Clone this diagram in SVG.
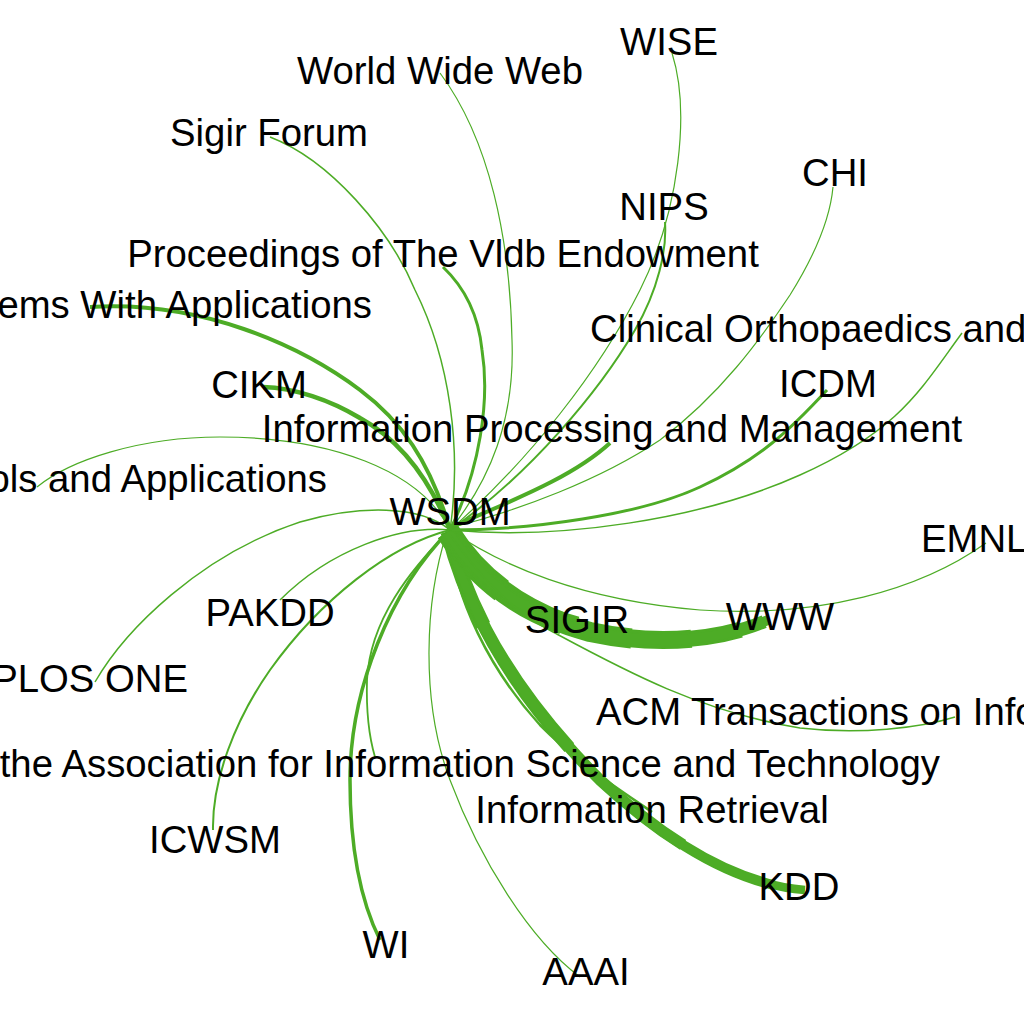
<svg xmlns="http://www.w3.org/2000/svg" xmlns:xlink="http://www.w3.org/1999/xlink" width="1024" height="1024" viewBox="0 0 1024 1024">
<style>
.e{fill:none;stroke:#4dac26;stroke-linecap:butt}
.t{font-family:"Liberation Sans",Arial,sans-serif;font-size:38.3px;fill:#000}
.m{text-anchor:middle}
.s{text-anchor:start}
.n{text-anchor:end}
</style>
<defs>
<path id="p-www" d="M448,532 C478,580 525,615 590,632 C650,645 715,643 768,620"/>
<path id="p-kdd" d="M448,532 C470,620 520,700 600,780 C670,845 740,885 805,890"/>
<path id="p-sigir" d="M448,532 C475,575 520,608 578,622"/>
</defs>
<rect width="1024" height="1024" fill="#fff"/>
<g id="edges">
<path class="e" stroke-width="4" d="M450,530 C430,460 400,420 360,390 C300,345 200,300 90,307"/>
<path class="e" stroke-width="4.5" d="M450,530 C430,480 400,440 360,418 C330,400 295,388 263,387"/>
<path class="e" stroke-width="1.2" d="M450,530 C420,470 330,437 220,437 C140,437 70,460 37,487"/>
<path class="e" stroke-width="1.5" d="M450,530 C420,505 360,505 300,522 C200,555 125,630 95,682"/>
<path class="e" stroke-width="1.5" d="M450,530 C400,525 330,550 280,600"/>
<path class="e" stroke-width="2" d="M450,530 C390,545 320,600 270,670 C235,720 212,780 213,830"/>
<path class="e" stroke-width="3.5" d="M450,530 C390,590 350,690 350,780 C350,860 365,910 380,940"/>
<path class="e" stroke-width="1.8" d="M450,530 C410,570 370,620 367,680 C366,715 370,740 375,757"/>
<path class="e" stroke-width="1.2" d="M447,532 C425,600 420,700 450,780 C480,860 530,940 580,977"/>
<path class="e" stroke-width="2.5" d="M448,532 C455,600 490,670 540,725 C580,765 620,790 652,812"/>
<g id="edge-kdd">
<use xlink:href="#p-kdd" href="#p-kdd" class="e" stroke-width="15" stroke-dasharray="100 2000"/>
<use xlink:href="#p-kdd" href="#p-kdd" class="e" stroke-width="13" stroke-dasharray="250 2000"/>
<use xlink:href="#p-kdd" href="#p-kdd" class="e" stroke-width="11.5" stroke-dasharray="400 2000"/>
<use xlink:href="#p-kdd" href="#p-kdd" class="e" stroke-width="10" stroke-dasharray="500 2000"/>
<use xlink:href="#p-kdd" href="#p-kdd" class="e" stroke-width="8.5"/>
</g>
<g id="edge-sigir">
<use xlink:href="#p-sigir" href="#p-sigir" class="e" stroke-width="17" stroke-dasharray="60 2000"/>
<use xlink:href="#p-sigir" href="#p-sigir" class="e" stroke-width="14" stroke-dasharray="120 2000"/>
<use xlink:href="#p-sigir" href="#p-sigir" class="e" stroke-width="11"/>
</g>
<g id="edge-www">
<use xlink:href="#p-www" href="#p-www" class="e" stroke-width="24" stroke-dasharray="80 2000"/>
<use xlink:href="#p-www" href="#p-www" class="e" stroke-width="22" stroke-dasharray="150 2000"/>
<use xlink:href="#p-www" href="#p-www" class="e" stroke-width="20" stroke-dasharray="220 2000"/>
<use xlink:href="#p-www" href="#p-www" class="e" stroke-width="18" stroke-dasharray="280 2000"/>
<use xlink:href="#p-www" href="#p-www" class="e" stroke-width="16" stroke-dasharray="330 2000"/>
<use xlink:href="#p-www" href="#p-www" class="e" stroke-width="13" stroke-dasharray="355 2000"/>
<use xlink:href="#p-www" href="#p-www" class="e" stroke-width="10"/>
</g>
<path class="e" stroke-width="1.5" d="M450,535 C490,590 520,615 553,632 C620,668 700,712 800,728 C860,735 920,728 955,717"/>
<path class="e" stroke-width="1.2" d="M450,530 C500,565 580,600 700,610 C820,618 920,590 986,543"/>
<path class="e" stroke-width="1.5" d="M450,530 C560,540 700,520 800,475 S920,390 962,333"/>
<path class="e" stroke-width="3" d="M450,530 C530,530 640,515 700,487 S790,430 827,390"/>
<path class="e" stroke-width="4" d="M450,528 C500,505 570,480 610,443"/>
<path class="e" stroke-width="1.2" d="M450,528 C520,510 600,480 660,440 C720,395 760,340 790,295 C815,255 830,220 833,187"/>
<path class="e" stroke-width="2" d="M450,530 C530,475 600,390 635,330 C658,290 667,250 665,222"/>
<path class="e" stroke-width="1.2" d="M450,530 C530,460 600,370 640,290 C680,210 690,110 672,53"/>
<path class="e" stroke-width="1.2" d="M450,530 C490,480 515,420 512,340 C510,240 490,140 440,73"/>
<path class="e" stroke-width="1.5" d="M450,530 C462,450 450,360 415,290 C390,230 330,160 270,137"/>
<path class="e" stroke-width="3" d="M450,530 C480,470 490,400 482,350 C478,310 462,285 443,267"/>
</g>
<g id="n-wise"><text class="t m" x="669" y="55">WISE</text></g>
<g id="n-worldwideweb"><text class="t m" x="440" y="84">World Wide Web</text></g>
<g id="n-sigirforum"><text class="t m" x="269" y="146">Sigir Forum</text></g>
<g id="n-chi"><text class="t m" x="835" y="186">CHI</text></g>
<g id="n-nips"><text class="t m" x="664" y="220">NIPS</text></g>
<g id="n-vldb"><text class="t m" x="443" y="267">Proceedings of The Vldb Endowment</text></g>
<g id="n-eswa"><text class="t n" x="372" y="318">ems With Applications</text></g>
<g id="n-clinical"><text class="t s" x="590" y="342">Clinical Orthopaedics and</text></g>
<g id="n-cikm"><text class="t m" x="259" y="398">CIKM</text></g>
<g id="n-icdm"><text class="t m" x="828" y="397">ICDM</text></g>
<g id="n-ipm"><text class="t m" x="612" y="442">Information Processing and Management</text></g>
<g id="n-mmta"><text class="t n" x="327" y="492">ols and Applications</text></g>
<g id="n-wsdm"><text class="t m" x="450" y="525">WSDM</text></g>
<g id="n-emnlp"><text class="t s" x="921" y="552">EMNL</text></g>
<g id="n-pakdd"><text class="t m" x="270" y="626">PAKDD</text></g>
<g id="n-sigir"><text class="t m" x="577" y="633">SIGIR</text></g>
<g id="n-www"><text class="t m" x="780" y="630">WWW</text></g>
<g id="n-plosone"><text class="t n" x="188" y="692">PLOS ONE</text></g>
<g id="n-tois"><text class="t s" x="596" y="725">ACM Transactions on Info</text></g>
<g id="n-jasist"><text class="t n" x="940" y="777">the Association for Information Science and Technology</text></g>
<g id="n-ir"><text class="t m" x="652" y="823">Information Retrieval</text></g>
<g id="n-icwsm"><text class="t m" x="215" y="853">ICWSM</text></g>
<g id="n-kdd"><text class="t m" x="799" y="900">KDD</text></g>
<g id="n-wi"><text class="t m" x="386" y="958">WI</text></g>
<g id="n-aaai"><text class="t m" x="586" y="985">AAAI</text></g>
</svg>
